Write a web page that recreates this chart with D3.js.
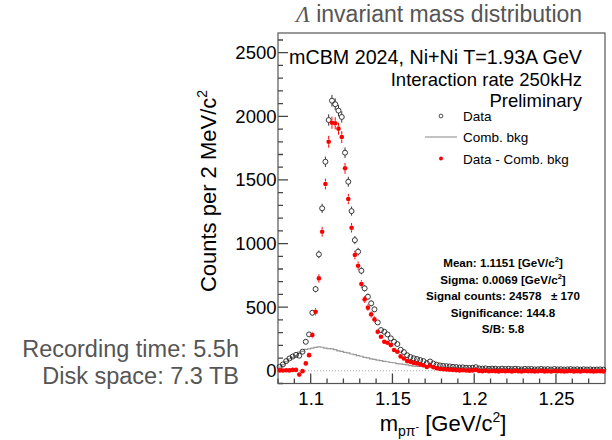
<!DOCTYPE html>
<meta charset="utf-8">
<style>

body {
  margin: 0;
}

svg {
  font-family: "Liberation Sans", Arial, sans-serif;
}

.axis path,
.axis line {
  display: none;
}

.frame {
  stroke: #555;
  stroke-width: 1.2px;
  fill: none;
}

.axis text {
  font-size: 18.5px;
  fill: #000;
}

.stats text {
  font-size: 11.6px;
  font-weight: bold;
  text-anchor: middle;
}

.note {
  fill: #555;
  font-size: 23.5px;
  text-anchor: end;
}

</style>
<body>
<script src="https://cdn.jsdelivr.net/npm/d3@7"></script>
<script>

var width = 612,
    height = 440;

// 2 MeV bins from 1.08 to 1.28 GeV/c^2
var binStart = 1.08,
    binWidth = 0.002;

var dataCounts = [
  31, 50, 76, 97, 112, 125, 118, 150, 228, 286,
  456, 642, 915, 1277, 1643, 1971, 2123, 2095, 2045, 1995,
  1714, 1486, 1255, 1027, 936, 786, 648, 582, 530, 483,
  380, 320, 307, 286, 255, 228, 210, 165, 147, 122,
  108, 98, 92, 84, 76, 60, 73, 57, 48, 42,
  38, 36, 34, 31, 29, 26, 27, 24, 22, 24,
  28, 19, 17, 19, 15, 17, 16, 13, 17, 14,
  16, 13, 16, 14, 11, 15, 13, 14, 11, 12,
  15, 11, 13, 10, 14, 11, 12, 10, 11, 13,
  10, 12, 9, 12, 10, 11, 9, 10, 11, 9
];

var bkgCounts = [
  28, 48, 72, 94, 105, 118, 146, 153, 168, 172,
  178, 184, 188, 185, 178, 174, 172, 166, 157, 153,
  145, 141, 132, 127, 119, 114, 105, 101, 94, 90,
  83, 80, 74, 71, 65, 63, 57, 55, 50, 47,
  40, 37, 35, 34, 32, 30, 31, 29, 28, 27,
  26, 26, 25, 24, 24, 23, 23, 22, 21, 21,
  21, 20, 20, 19, 19, 19, 19, 18, 18, 18,
  18, 18, 17, 17, 17, 17, 17, 17, 16, 16,
  16, 16, 16, 16, 16, 15, 15, 15, 15, 15,
  15, 15, 15, 14, 14, 14, 14, 14, 14, 14
];

var signalCounts = [
  3, 2, 4, 3, 7, 7, -30, -3, 58, 123,
  281, 464, 726, 1093, 1468, 1800, 1950, 1945, 1903, 1837,
  1591, 1350, 1124, 910, 826, 682, 561, 496, 443, 404,
  307, 267, 228, 220, 202, 163, 150, 113, 97, 76,
  70, 62, 57, 50, 44, 30, 42, 28, 20, 15,
  12, 10, 9, 7, 5, 3, 4, 2, 1, 3,
  7, -1, -3, 0, -4, -2, -3, -5, -1, -4,
  -2, -5, -1, -3, -6, -2, -4, -3, -5, -4,
  -1, -5, -3, -6, -2, -4, -3, -5, -4, -2,
  -5, -3, -6, -2, -4, -3, -5, -4, -3, -5
];

var xMajor = [1.1, 1.15, 1.2, 1.25],
    xMinor = [1.08, 1.09, 1.11, 1.12, 1.13, 1.14, 1.16, 1.17, 1.18, 1.19, 1.21, 1.22, 1.23, 1.24, 1.26, 1.27],
    yMajor = [0, 500, 1000, 1500, 2000, 2500],
    yMinor = d3.range(-100, 2700, 100).filter(function(v) { return v % 500 !== 0; });

var headerLines = ["mCBM 2024, Ni+Ni T=1.93A GeV", "Interaction rate 250kHz", "Preliminary"],
    noteLines = ["Recording time: 5.5h", "Disk space: 7.3 TB"];

var bins = dataCounts.map(function(d, i) {
  return {lo: binStart + i * binWidth, mid: binStart + (i + 0.5) * binWidth, data: d, bkg: bkgCounts[i], sig: signalCounts[i]};
});

var x = d3.scaleLinear()
    .domain([1.08, 1.28])
    .range([278, 605]);

var y = d3.scaleLinear()
    .domain([-100, 2655])
    .range([383.5, 33]);

var x0 = x.range()[0], y0 = y.range()[0];

var svg = d3.select("body").append("svg")
    .attr("width", width)
    .attr("height", height);

// axis labels from d3 axes
var xAx = svg.append("g")
    .attr("class", "x axis")
    .attr("transform", "translate(0," + y0 + ")")
    .call(d3.axisBottom(x).tickValues(xMajor).tickSize(0).tickPadding(0).tickFormat(d3.format("")));
xAx.selectAll("text")
    .attr("y", 21)
    .attr("dy", 0);

svg.append("g")
    .attr("class", "y axis")
    .attr("transform", "translate(" + x0 + ",0)")
    .call(d3.axisLeft(y).tickValues(yMajor).tickSize(0).tickPadding(1.5).tickFormat(d3.format("d")));

// tick marks inside the frame, ROOT style
var tickPath = d3.path();
xMajor.forEach(function(v) { tickPath.moveTo(x(v), y0); tickPath.lineTo(x(v), y0 - 10); });
xMinor.forEach(function(v) { tickPath.moveTo(x(v), y0); tickPath.lineTo(x(v), y0 - 5); });
yMajor.forEach(function(v) { tickPath.moveTo(x0, y(v)); tickPath.lineTo(x0 + 10, y(v)); });
yMinor.forEach(function(v) { tickPath.moveTo(x0, y(v)); tickPath.lineTo(x0 + 5, y(v)); });

svg.append("path")
    .attr("d", tickPath.toString())
    .attr("fill", "none")
    .attr("stroke", "#444")
    .attr("stroke-width", 1.3);

svg.append("rect")
    .attr("class", "frame")
    .attr("x", x0)
    .attr("y", y.range()[1])
    .attr("width", x.range()[1] - x0)
    .attr("height", y0 - y.range()[1]);

// zero line
svg.append("line")
    .attr("x1", x0)
    .attr("x2", x.range()[1])
    .attr("y1", y(0))
    .attr("y2", y(0))
    .attr("stroke", "#aaa")
    .attr("stroke-dasharray", "1,2");

// combinatorial background as a step histogram
var step = d3.line()
    .x(function(d) { return x(d.lo); })
    .y(function(d) { return y(d.bkg); })
    .curve(d3.curveStepAfter);

var bkgPath = bins.concat([{lo: binStart + bins.length * binWidth, bkg: bins[bins.length - 1].bkg}]);

svg.append("path")
    .datum(bkgPath)
    .attr("fill", "none")
    .attr("stroke", "#999")
    .attr("stroke-width", 1.2)
    .attr("d", step);

var r = 2.5;

function errorBars(g, key, err, color) {
  g.selectAll("g")
      .data(bins.filter(function(d) { return y(d[key] - err(d)) - y(d[key]) > r; }))
    .enter().append("g")
      .attr("stroke", color)
      .attr("stroke-width", 1)
      .each(function(d) {
        var e = err(d), cx = x(d.mid), cy = y(d[key]);
        d3.select(this).append("line")
            .attr("x1", cx).attr("x2", cx)
            .attr("y1", y(d[key] + e)).attr("y2", cy - r);
        d3.select(this).append("line")
            .attr("x1", cx).attr("x2", cx)
            .attr("y1", cy + r).attr("y2", y(d[key] - e));
      });
}

var dataG = svg.append("g");
errorBars(dataG, "data", function(d) { return Math.sqrt(d.data); }, "#333");

dataG.selectAll("circle")
    .data(bins)
  .enter().append("circle")
    .attr("cx", function(d) { return x(d.mid); })
    .attr("cy", function(d) { return y(d.data); })
    .attr("r", r)
    .attr("fill", "none")
    .attr("stroke", "#222")
    .attr("stroke-width", 0.9);

var sigG = svg.append("g");
errorBars(sigG, "sig", function(d) { return Math.sqrt(d.data + d.bkg); }, "#f00");

sigG.selectAll("circle")
    .data(bins)
  .enter().append("circle")
    .attr("cx", function(d) { return x(d.mid); })
    .attr("cy", function(d) { return y(d.sig); })
    .attr("r", 2.3)
    .attr("fill", "#f00");

// title
var title = svg.append("text")
    .attr("x", 439)
    .attr("y", 22)
    .attr("text-anchor", "middle")
    .attr("fill", "#555")
    .style("font-size", "23px");
title.append("tspan")
    .style("font-family", "'Liberation Serif', serif")
    .style("font-style", "italic")
    .text("Λ");
title.append("tspan").text(" invariant mass distribution");

// header inside frame
var headerSize = [19.7, 18.5, 18.5];
svg.selectAll(".header")
    .data(headerLines)
  .enter().append("text")
    .attr("class", "header")
    .attr("x", 582)
    .attr("y", function(d, i) { return 64 + i * 21.5; })
    .attr("text-anchor", "end")
    .style("font-size", function(d, i) { return headerSize[i] + "px"; })
    .text(function(d) { return d; });

// legend
var legend = svg.append("g").style("font-size", "13.5px");
legend.append("circle").attr("cx", 441).attr("cy", 116).attr("r", 1.9)
    .attr("fill", "none").attr("stroke", "#222").attr("stroke-width", 0.8);
legend.append("line").attr("x1", 425).attr("x2", 457).attr("y1", 137).attr("y2", 137)
    .attr("stroke", "#999").attr("stroke-width", 1.2);
legend.append("circle").attr("cx", 441).attr("cy", 158.5).attr("r", 2).attr("fill", "#f00");
legend.selectAll("text")
    .data(["Data", "Comb. bkg", "Data - Comb. bkg"])
  .enter().append("text")
    .attr("x", 463)
    .attr("y", function(d, i) { return 121 + i * 21.3; })
    .text(function(d) { return d; });

// fit results
var stats = svg.append("g").attr("class", "stats");
var statLines = [
  ["Mean: 1.1151 [GeV/c", "2", "]"],
  ["Sigma: 0.0069 [GeV/c", "2", "]"],
  ["Signal counts: 24578   \u00b1 170"],
  ["Significance: 144.8"],
  ["S/B: 5.8"]
];
var statY = [267, 284, 300, 316.5, 333];
statLines.forEach(function(parts, i) {
  var t = stats.append("text")
      .attr("x", 503)
      .attr("y", statY[i])
      .attr("xml:space", "preserve")
      .style("white-space", "pre");
  t.append("tspan").text(parts[0]);
  if (parts.length > 1) {
    t.append("tspan").attr("dy", -5).style("font-size", "7.5px").text(parts[1]);
    t.append("tspan").attr("dy", 5).text(parts[2]);
  }
});

// axis titles
var yTitle = svg.append("text")
    .attr("transform", "translate(216,191) rotate(-90)")
    .attr("text-anchor", "middle")
    .style("font-size", "22px");
yTitle.append("tspan").text("Counts per 2 MeV/c");
yTitle.append("tspan").attr("dy", -9).style("font-size", "14px").text("2");

var xTitle = svg.append("text")
    .attr("x", 443)
    .attr("y", 431)
    .attr("text-anchor", "middle")
    .style("font-size", "22px");
xTitle.append("tspan").text("m");
xTitle.append("tspan").attr("dy", 5).style("font-size", "14px").text("pπ");
xTitle.append("tspan").attr("dy", -6).style("font-size", "11px").text("-");
xTitle.append("tspan").attr("dy", 1).text(" [GeV/c");
xTitle.append("tspan").attr("dy", -9).style("font-size", "14px").text("2");
xTitle.append("tspan").attr("dy", 9).text("]");

// run info on the left
svg.selectAll(".note")
    .data(noteLines)
  .enter().append("text")
    .attr("class", "note")
    .attr("x", 239)
    .attr("y", function(d, i) { return 357 + i * 27; })
    .text(function(d) { return d; });

</script>
